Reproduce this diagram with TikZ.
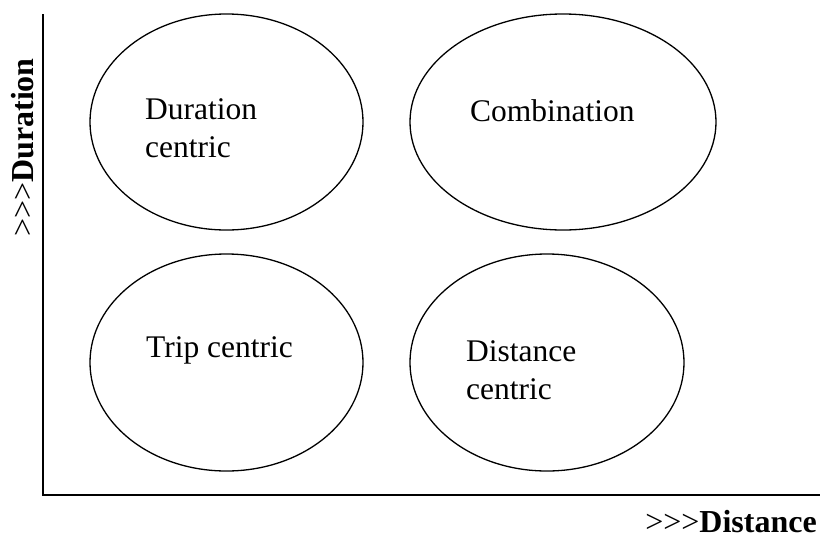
\documentclass[tikz,border=0pt]{standalone}
\usepackage{fontspec}
\setmainfont{Liberation Serif}
\usetikzlibrary{shapes.geometric}
\tikzset{
  oval/.style={ellipse, draw, line width=1.3pt, inner sep=0pt, outer sep=0pt},
  axisline/.style={line width=2pt},
  lbl/.style={anchor=base west, inner sep=0pt, font=\fontsize{31.5}{38}\selectfont},
  axlbl/.style={inner sep=0pt, font=\fontsize{32}{38}\selectfont}
}
\begin{document}
\begin{tikzpicture}[x=1pt, y=-1pt]
\useasboundingbox (0,0) rectangle (820,539);
% axes
\coordinate (top) at (42.7,14);
\coordinate (origin) at (42.7,494.7);
\coordinate (right) at (820,494.7);
\draw[axisline] (top) -- (origin) -- (right);
% ellipses
\node[oval, minimum width=273pt, minimum height=216pt] (ul) at (226.5,122) {};
\node[oval, minimum width=306pt, minimum height=216pt] (ur) at (563,122) {};
\node[oval, minimum width=273pt, minimum height=217pt] (ll) at (226.5,362.5) {};
\node[oval, minimum width=274pt, minimum height=217pt] (lr) at (547,362.5) {};
% texts
\node[lbl] (tul) at (145,119) {\parbox[t]{150pt}{\raggedright Duration\\centric}};
\node[lbl] (tur) at (470,121) {Combination};
\node[lbl] (tll) at (146,357) {Trip centric};
\node[lbl] (tlr) at (466,361) {\parbox[t]{150pt}{\raggedright Distance\\centric}};
% axis labels
\node[axlbl, anchor=base east] (xl) at (817,532) {>{}>{}>\textbf{Distance}};
\node[axlbl, anchor=base, rotate=90] (yl) at (34,147.5) {>{}>{}>\textbf{Duration}};
\end{tikzpicture}
\end{document}
